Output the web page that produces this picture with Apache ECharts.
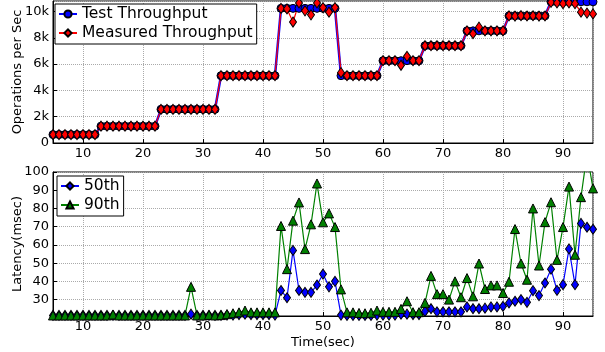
<!DOCTYPE html>
<html>
<head>
<meta charset="utf-8">
<script src="https://cdn.jsdelivr.net/npm/echarts@6/dist/echarts.min.js"></script>
<style>
  html, body { margin: 0; padding: 0; background: #fff; }
  #main { width: 605px; height: 352px; }
</style>
</head>
<body>
<div id="main"></div>
<script>
var times = [5,6,7,8,9,10,11,12,13,14,15,16,17,18,19,20,21,22,23,24,25,26,27,28,29,30,
  31,32,33,34,35,36,37,38,39,40,41,42,43,44,45,46,47,48,49,50,51,52,53,54,55,56,57,58,59,60,
  61,62,63,64,65,66,67,68,69,70,71,72,73,74,75,76,77,78,79,80,81,82,83,84,85,86,87,88,89,90,
  91,92,93,94,95];

// throughput (ops/sec)
var testThroughput = [
  640,640,640,640,640,640,640,640,
  1280,1280,1280,1280,1280,1280,1280,1280,1280,1280,
  2560,2560,2560,2560,2560,2560,2560,2560,2560,2560,
  5120,5120,5120,5120,5120,5120,5120,5120,5120,5120,
  10240,10240,10240,10240,10240,10240,10240,10240,10240,10240,
  5120,5120,5120,5120,5120,5120,5120,
  6260,6260,6260,6260,6260,6260,6260,
  7400,7400,7400,7400,7400,7400,7400,
  8530,8530,8530,8530,8530,8530,8530,
  9670,9670,9670,9670,9670,9670,9670,
  10740,10740,10740,10740,10740,10740,10740,10740];
var measuredThroughput = [
  640,640,640,640,640,640,640,640,
  1280,1280,1280,1280,1280,1280,1280,1280,1280,1280,
  2560,2560,2560,2560,2560,2560,2560,2560,2560,2560,
  5120,5120,5120,5120,5120,5120,5120,5120,5120,5120,
  10240,10200,9200,10650,10050,9750,10650,10300,9950,10300,
  5350,5120,5120,5120,5120,5120,5120,
  6260,6260,6260,5910,6590,6260,6260,
  7400,7400,7400,7400,7400,7400,7400,
  8530,8310,8810,8530,8530,8530,8530,
  9670,9650,9690,9660,9680,9650,9660,
  10700,10650,10600,10650,10600,9950,9880,9820];

// latency (msec)
var lat50 = [
  21.3,21.3,21.3,21.3,21.3,21.3,21.3,21.3,21.3,21.3,21.3,21.3,21.3,21.3,21.3,21.3,21.3,21.3,21.3,21.3,21.3,21.3,21.3,
  22,21.3,21.3,21.3,21.3,21.3,21.5,21.5,21.8,22,21.8,21.8,21.8,21.8,21.5,
  35,31,57,35,34,34,38,44,37,40,
  21.5,21.3,21.3,21.3,21.3,21.3,21.5,21.5,21.5,21.5,22,22,21.8,21.8,
  23.5,25,23.3,23.3,23.3,23.3,23.3,26,25,25,25.3,26,26,26.3,
  28.2,29.1,30,28.5,34.9,32.2,39.1,46.7,35.1,38.2,57.8,38.2,71.8,69.7,68.6];
var lat90 = [
  21.3,21.3,21.3,21.3,21.3,21.3,21.3,21.3,21.3,21.3,21.8,21.3,21.3,21.3,21.3,21.3,21.3,21.3,21.3,21.3,21.3,21.3,21.3,
  37,21.3,21.3,21.6,21.3,21.5,22,22.5,23,24,23,23,23,23,23,
  70.4,46.7,73.3,83.3,57.7,71.3,93.7,72.4,77.3,69.8,
  35.6,23,23,22.7,22.5,22.8,24,23.3,23.3,23.3,24.9,29.1,23.1,23.1,
  28.2,43,33,33,30,40,31.3,41.8,31.8,49.8,35.8,37.8,37.8,33.6,
  39.8,68.7,49.8,40.9,80,48.7,72.5,83.4,51.8,69.8,92,54.6,86.2,110,91];

function pairs(vals) {
  return times.map(function (t, i) { return [t, vals[i]]; });
}

var font = 'DejaVu Sans';
var gridLine = { show: true, lineStyle: { color: '#aaa', type: 'dotted', width: 1 } };
var tickLabel = { color: '#000', fontFamily: font, fontSize: 13 };

function xAxisFor(idx, name) {
  return {
    type: 'value', gridIndex: idx, min: 5, max: 95, splitNumber: 9,
    name: name, nameLocation: 'middle', nameGap: 20, nameMoveOverlap: false,
    nameTextStyle: { color: '#000', fontFamily: font, fontSize: 13 },
    axisLine: { show: true, lineStyle: { color: '#000', width: 1 } },
    axisTick: { show: true, inside: true, length: 4, lineStyle: { color: '#000' } },
    axisLabel: Object.assign({ margin: 4, showMinLabel: false, showMaxLabel: false,
      formatter: function (v) { return v % 10 === 0 ? String(v) : ''; } }, tickLabel),
    splitLine: gridLine
  };
}

var legendBox = {
  orient: 'vertical', padding: [2, 4, 3, 3], itemGap: 3,
  itemWidth: 18, itemHeight: 9,
  backgroundColor: '#fff', borderColor: '#000', borderWidth: 1, borderRadius: 0,
  textStyle: { color: '#000', fontFamily: font, fontSize: 15.5 }
};

var chart = echarts.init(document.getElementById('main'));
var option = {
  backgroundColor: '#fff',
  animation: false,
  grid: [
    { left: 53, right: 12, top: 1, height: 142, outerBoundsMode: 'none', containLabel: false,
      show: true, borderColor: '#000', borderWidth: 1, backgroundColor: 'transparent' },
    { left: 53, right: 12, top: 172, height: 144, outerBoundsMode: 'none', containLabel: false,
      show: true, borderColor: '#000', borderWidth: 1, backgroundColor: 'transparent' }
  ],
  legend: [
    Object.assign({ data: ['Test Throughput', 'Measured Throughput'], left: 55, top: 4 }, legendBox),
    Object.assign({ data: ['50th', '90th'], left: 57, top: 176 }, legendBox)
  ],
  xAxis: [xAxisFor(0, ''), xAxisFor(1, 'Time(sec)')],
  yAxis: [
    {
      type: 'value', gridIndex: 0, min: 0, max: 10800, interval: 2000,
      name: 'Operations per Sec', nameLocation: 'middle', nameGap: 29, nameMoveOverlap: false,
      nameTextStyle: { color: '#000', fontFamily: font, fontSize: 13 },
      axisLine: { show: true, lineStyle: { color: '#000' } },
      axisTick: { show: true, inside: true, length: 4, lineStyle: { color: '#000' } },
      axisLabel: Object.assign({ margin: 4, showMaxLabel: false,
        formatter: function (v) { return v === 0 ? '0' : (v / 1000) + 'k'; } }, tickLabel),
      splitLine: gridLine
    },
    {
      type: 'value', gridIndex: 1, min: 21, max: 100, splitNumber: 8,
      name: 'Latency(msec)', nameLocation: 'middle', nameGap: 29, nameMoveOverlap: false,
      nameTextStyle: { color: '#000', fontFamily: font, fontSize: 13 },
      axisLine: { show: true, lineStyle: { color: '#000' } },
      axisTick: { show: true, inside: true, length: 4, lineStyle: { color: '#000' } },
      axisLabel: Object.assign({ margin: 4, showMinLabel: false,
        formatter: function (v) { return v % 10 === 0 ? String(v) : ''; } }, tickLabel),
      splitLine: gridLine
    }
  ],
  series: [
    {
      name: 'Test Throughput', type: 'line', xAxisIndex: 0, yAxisIndex: 0,
      data: pairs(testThroughput),
      symbol: 'circle', symbolSize: 8,
      lineStyle: { color: '#0000ff', width: 2.5 },
      itemStyle: { color: '#0000ff', borderColor: '#000', borderWidth: 1 }
    },
    {
      name: 'Measured Throughput', type: 'line', xAxisIndex: 0, yAxisIndex: 0,
      data: pairs(measuredThroughput),
      symbol: 'diamond', symbolSize: [7, 10],
      lineStyle: { color: '#ff0000', width: 1.2 },
      itemStyle: { color: '#ff0000', borderColor: '#000', borderWidth: 1 }
    },
    {
      name: '50th', type: 'line', xAxisIndex: 1, yAxisIndex: 1,
      data: pairs(lat50),
      symbol: 'diamond', symbolSize: [7, 10],
      lineStyle: { color: '#0000ff', width: 1.2 },
      itemStyle: { color: '#0000ff', borderColor: '#000', borderWidth: 1 }
    },
    {
      name: '90th', type: 'line', xAxisIndex: 1, yAxisIndex: 1,
      data: pairs(lat90),
      symbol: 'triangle', symbolSize: 9,
      lineStyle: { color: '#008000', width: 1.2 },
      itemStyle: { color: '#008000', borderColor: '#000', borderWidth: 1 }
    }
  ]
};
chart.setOption(option);
</script>
</body>
</html>
